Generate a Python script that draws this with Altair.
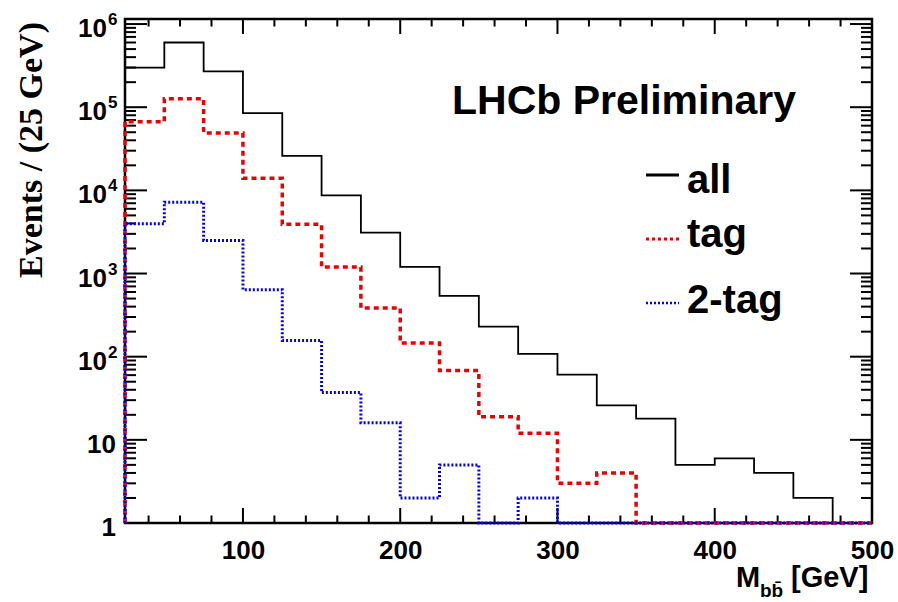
import altair as alt
import pandas as pd

# ---------------- data ----------------
bin_low = list(range(25, 500, 25))          # 19 bins of 25 GeV: 25 ... 475
x_end = 500
all_counts = [300000, 600000, 270000, 85000, 26000, 8700, 3100, 1200, 540, 230,
              108, 61, 26, 18, 5, 6, 4, 2, 0]
tag_counts = [67000, 126000, 49000, 14000, 3900, 1200, 385, 146, 68, 19,
              12, 3, 4, 0, 0, 0, 0, 0, 0]
twotag_counts = [3960, 7200, 2500, 640, 157, 37, 16, 2, 5, 0,
                 2, 0, 0, 0, 0, 0, 0, 0, 0]
series_names = ["all", "tag", "2-tag"]

x_major = [100, 200, 300, 400, 500]
x_minor = [40, 60, 80, 120, 140, 160, 180, 220, 240, 260, 280, 320, 340, 360, 380,
           420, 440, 460, 480]
y_major = [1, 10, 100, 1000, 10000, 100000, 1000000]
y_minor = [k * 10 ** n for n in range(0, 6) for k in range(2, 10)]

# y tick labels: plain ones and "10^n" ones
y_plain_vals = [1, 10]
y_plain_text = ["1", "10"]
y_pow_vals = [100, 1000, 10000, 100000, 1000000]
y_pow_exp = ["2", "3", "4", "5", "6"]

title_text = "LHCb Preliminary"
y_title = "Events / (25 GeV)"


def steps(name, counts):
    rows = [{"series": name, "x": bin_low[0], "v": 1.0, "i": 0}]
    for j, (lo, c) in enumerate(zip(bin_low, counts)):
        rows.append({"series": name, "x": lo, "v": max(c, 1), "i": j + 1})
    rows.append({"series": name, "x": x_end, "v": max(counts[-1], 1), "i": len(counts) + 1})
    rows.append({"series": name, "x": x_end, "v": 1.0, "i": len(counts) + 2})
    return pd.DataFrame(rows)


W, H = 747, 504
FONT = "Liberation Sans"
RED = "#ee0000"
BLUE = "#0000ff"

xs = alt.Scale(domain=[25, 500], nice=False, zero=False)
ys = alt.Scale(type="log", domain=[1, 1.15e6], nice=False)

ax_x = alt.Axis(
    values=x_major, ticks=False, tickSize=0, domain=False, grid=False, title=None,
    labelFont=FONT, labelFontWeight="bold", labelFontSize=26, labelColor="black",
    labelPadding=14, labelFlush=False, labelOverlap=False)


def X(field):
    return alt.X(field, scale=xs, axis=ax_x)


def Y(field):
    return alt.Y(field, scale=ys, axis=None)


# --- histograms ---
h_all = alt.Chart(steps("all", all_counts)).mark_line(
    interpolate="step-after", color="black", strokeWidth=1.8
).encode(x=X("x:Q"), y=Y("v:Q"), order=alt.Order("i:Q"))

h_tag = alt.Chart(steps("tag", tag_counts)).mark_line(
    interpolate="step-after", color=RED, strokeWidth=3.5, strokeDash=[5, 4]
).encode(x=X("x:Q"), y=Y("v:Q"), order=alt.Order("i:Q"))

h_2tag = alt.Chart(steps("2-tag", twotag_counts)).mark_line(
    interpolate="step-after", color=BLUE, strokeWidth=3, strokeDash=[2, 2]
).encode(x=X("x:Q"), y=Y("v:Q"), order=alt.Order("i:Q"))

# --- inward ticks on all four sides ---
xmaj_df = pd.DataFrame({"x": x_major})
xmin_df = pd.DataFrame({"x": x_minor})
ymaj_df = pd.DataFrame({"v": y_major})
ymin_df = pd.DataFrame({"v": y_minor})


def xticks(df, length):
    b = alt.Chart(df).mark_rule(color="black", strokeWidth=2).encode(
        x=X("x:Q"), y=alt.value(H), y2=alt.value(H - length))
    t = alt.Chart(df).mark_rule(color="black", strokeWidth=2).encode(
        x=X("x:Q"), y=alt.value(0), y2=alt.value(length))
    return [b, t]


def yticks(df, length):
    l = alt.Chart(df).mark_rule(color="black", strokeWidth=2).encode(
        y=Y("v:Q"), x=alt.value(0), x2=alt.value(length))
    r = alt.Chart(df).mark_rule(color="black", strokeWidth=2).encode(
        y=Y("v:Q"), x=alt.value(W), x2=alt.value(W - length))
    return [l, r]


tick_layers = xticks(xmaj_df, 15) + xticks(xmin_df, 7.5) + yticks(ymaj_df, 22) + yticks(ymin_df, 11)

# --- y tick labels (with superscript exponents) ---
lab_style = dict(font=FONT, fontWeight="bold", color="black", baseline="alphabetic")
ylab_plain = alt.Chart(pd.DataFrame({"v": y_plain_vals, "s": y_plain_text})).mark_text(
    fontSize=26, align="right", dy=13, **lab_style
).encode(y=Y("v:Q"), x=alt.value(-9), text="s:N")
ylab_base = alt.Chart(pd.DataFrame({"v": y_pow_vals, "s": ["10"] * len(y_pow_vals)})).mark_text(
    fontSize=26, align="right", dy=13, **lab_style
).encode(y=Y("v:Q"), x=alt.value(-18), text="s:N")
ylab_exp = alt.Chart(pd.DataFrame({"v": y_pow_vals, "s": y_pow_exp})).mark_text(
    fontSize=17, align="left", dy=1, **lab_style
).encode(y=Y("v:Q"), x=alt.value(-17), text="s:N")

# --- texts ---
lhcb = alt.Chart(pd.DataFrame({"s": [title_text]})).mark_text(
    font=FONT, fontWeight="bold", fontSize=41, align="left", baseline="alphabetic", color="black"
).encode(text="s:N", x=alt.value(327), y=alt.value(95))

ytitle = alt.Chart(pd.DataFrame({"s": [y_title]})).mark_text(
    font="Liberation Serif", fontWeight="bold", fontSize=34, angle=270,
    align="right", baseline="middle", color="black"
).encode(text="s:N", x=alt.value(-93), y=alt.value(3))

xt_m = alt.Chart(pd.DataFrame({"s": ["M"]})).mark_text(
    font=FONT, fontWeight="bold", fontSize=29, align="left", baseline="alphabetic", color="black"
).encode(text="s:N", x=alt.value(611), y=alt.value(568))
xt_sub = alt.Chart(pd.DataFrame({"s": ["bb\u0304"]})).mark_text(
    font=FONT, fontWeight="bold", fontSize=19, align="left", baseline="alphabetic", color="black"
).encode(text="s:N", x=alt.value(635), y=alt.value(578))
xt_unit = alt.Chart(pd.DataFrame({"s": ["[GeV]"]})).mark_text(
    font=FONT, fontWeight="bold", fontSize=29, align="left", baseline="alphabetic", color="black"
).encode(text="s:N", x=alt.value(666), y=alt.value(568))

# --- legend (manual, inside the frame) ---
leg_styles = [
    dict(color="black", strokeWidth=3),
    dict(color=RED, strokeWidth=3, strokeDash=[3, 3]),
    dict(color=BLUE, strokeWidth=2.5, strokeDash=[2, 2]),
]
leg_line_y = [156, 220, 284]
leg_text_y = [174, 228, 294]
legend_layers = []
for name, sty, ly, ty in zip(series_names, leg_styles, leg_line_y, leg_text_y):
    d = pd.DataFrame({"label": [name]})
    legend_layers.append(alt.Chart(d).mark_rule(**sty).encode(
        x=alt.value(521), x2=alt.value(554), y=alt.value(ly)))
    legend_layers.append(alt.Chart(d).mark_text(
        font=FONT, fontWeight="bold", fontSize=40, align="left", baseline="alphabetic", color="black"
    ).encode(text="label:N", x=alt.value(562), y=alt.value(ty)))

chart = alt.layer(
    h_all, *tick_layers, h_tag, h_2tag, ylab_plain, ylab_base, ylab_exp,
    lhcb, ytitle, xt_m, xt_sub, xt_unit, *legend_layers
).properties(
    width=W, height=H,
    padding={"left": 125, "top": 19, "right": 26, "bottom": 79},
    autosize=alt.AutoSizeParams(type="none"),
    background="white",
).configure_view(
    stroke="black", strokeWidth=2.5
).configure_axis(grid=False)

chart.save("out.html", embed_options={"renderer": "svg", "actions": False})
